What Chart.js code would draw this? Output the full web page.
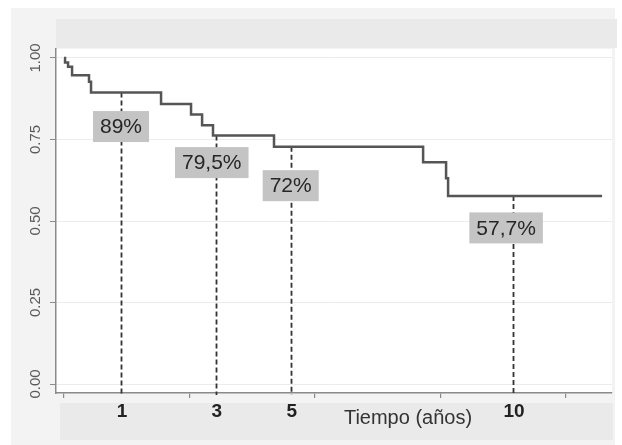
<!DOCTYPE html>
<html>
<head>
<meta charset="utf-8">
<script src="https://cdn.jsdelivr.net/npm/chart.js@4.4.1/dist/chart.umd.min.js"></script>
<style>
  html, body { margin: 0; padding: 0; background: #fff; }
  canvas { display: block; }
</style>
</head>
<body>
<canvas id="km" width="622" height="445"></canvas>
<script>
// curva de Kaplan-Meier, tiempo en dias (el eje tiene marcas cada 1000 dias)
const stepDays = [0, 8, 32, 64, 199, 215, 773, 1012, 1100, 1187, 1673, 2861, 3044, 3060, 4287];
const survival = [1.00, 0.986, 0.973, 0.947, 0.927, 0.894, 0.859, 0.827, 0.794, 0.762, 0.728, 0.680, 0.631, 0.577, 0.577];
const dayTicks = [0, 1000, 2000, 3000, 4000];
const yTicks = [0, 0.25, 0.5, 0.75, 1];
const yearLabels = ["1", "3", "5", "10"];
const yearDays = [454, 1209, 1806, 3578];
const pctLabels = ["89%", "79,5%", "72%", "57,7%"];

// desplazamiento de cada caja respecto al punto de la curva (px)
const boxDx = [0, -4, 0, -7];
const boxDy = [34, 27, 39, 32];

const FONT = '"Liberation Sans", Arial, sans-serif';

function survAt(d) {
  let s = survival[0];
  stepDays.forEach((t, i) => { if (t <= d) s = survival[i]; });
  return s;
}

const frame = {
  id: "frame",
  beforeDraw(chart) {
    const { ctx, chartArea: a } = chart;
    ctx.save();
    ctx.fillStyle = "#fff";
    ctx.fillRect(0, 0, chart.width, chart.height);
    ctx.fillStyle = "#f3f3f3";
    ctx.fillRect(11, 8, 604, 437);
    ctx.fillStyle = "#eaeaea";
    ctx.fillRect(a.left, 19, 561, a.top - 20);
    ctx.fillRect(a.left + 4, a.bottom + 10, 553, 37);
    ctx.fillStyle = "#fff";
    ctx.fillRect(a.left, a.top, a.right - a.left, a.bottom - a.top);
    ctx.restore();
  }
};

const marks = {
  id: "marks",
  beforeDatasetsDraw(chart) {
    const { ctx, chartArea: a, scales: { x, y } } = chart;
    ctx.save();
    ctx.strokeStyle = "#333";
    ctx.lineWidth = 1.8;
    ctx.setLineDash([5, 3]);
    yearDays.forEach(d => {
      const px = Math.round(x.getPixelForValue(d)) + 0.5;
      ctx.beginPath();
      ctx.moveTo(px, y.getPixelForValue(survAt(d)));
      ctx.lineTo(px, a.bottom + 2);
      ctx.stroke();
    });
    ctx.restore();
  },
  afterDatasetsDraw(chart) {
    const { ctx, chartArea: a, scales: { x, y } } = chart;
    ctx.save();

    // cajas con los porcentajes
    ctx.font = "21px " + FONT;
    ctx.textAlign = "center";
    ctx.textBaseline = "middle";
    yearDays.forEach((d, i) => {
      const cx = x.getPixelForValue(d) + boxDx[i];
      const cy = y.getPixelForValue(survAt(d)) + boxDy[i];
      const w = ctx.measureText(pctLabels[i]).width + 14;
      const h = 31;
      ctx.fillStyle = "#c4c4c4";
      ctx.fillRect(cx - w / 2, cy - h / 2, w, h);
      ctx.fillStyle = "#262626";
      ctx.fillText(pctLabels[i], cx, cy + 1);
    });

    // etiquetas del eje y, giradas
    ctx.font = "15px " + FONT;
    ctx.fillStyle = "#5a5a5a";
    yTicks.forEach(v => {
      ctx.save();
      ctx.translate(a.left - 20, y.getPixelForValue(v));
      ctx.rotate(-Math.PI / 2);
      ctx.fillText(v.toFixed(2), 0, 0);
      ctx.restore();
    });

    // años bajo las lineas discontinuas
    ctx.font = "bold 19px " + FONT;
    ctx.fillStyle = "#222";
    yearDays.forEach((d, i) => {
      ctx.fillText(yearLabels[i], x.getPixelForValue(d) + 1, a.bottom + 19);
    });

    // titulo del eje x
    ctx.font = "20px " + FONT;
    ctx.fillStyle = "#333";
    ctx.fillText("Tiempo (años)", a.left + 352, a.bottom + 25);
    ctx.restore();
  }
};

new Chart(document.getElementById("km"), {
  type: "line",
  data: {
    datasets: [{
      data: stepDays.map((d, i) => ({ x: d, y: survival[i] })),
      stepped: true,
      borderColor: "#555",
      borderWidth: 2.5,
      pointRadius: 0,
      fill: false
    }]
  },
  options: {
    responsive: false,
    animation: false,
    layout: { padding: { top: 49, right: 10, left: 0, bottom: 0 } },
    plugins: { legend: { display: false }, tooltip: { enabled: false } },
    scales: {
      x: {
        type: "linear",
        min: -64,
        max: 4366,
        afterBuildTicks: s => { s.ticks = dayTicks.map(v => ({ value: v })); },
        afterFit: s => { s.height = 52; },
        ticks: { display: false },
        grid: { drawOnChartArea: false, tickLength: 5, color: "#8a8a8a", lineWidth: 1.2 },
        border: { color: "#8a8a8a", width: 1.5 }
      },
      y: {
        min: -0.0276,
        max: 1.0276,
        afterBuildTicks: s => { s.ticks = yTicks.map(v => ({ value: v })); },
        afterFit: s => { s.width = 56; },
        ticks: { display: false },
        grid: { color: "#ececec", tickColor: "#8a8a8a", tickLength: 6, lineWidth: 1 },
        border: { color: "#8a8a8a", width: 1.5 }
      }
    }
  },
  plugins: [frame, marks]
});
</script>
</body>
</html>
